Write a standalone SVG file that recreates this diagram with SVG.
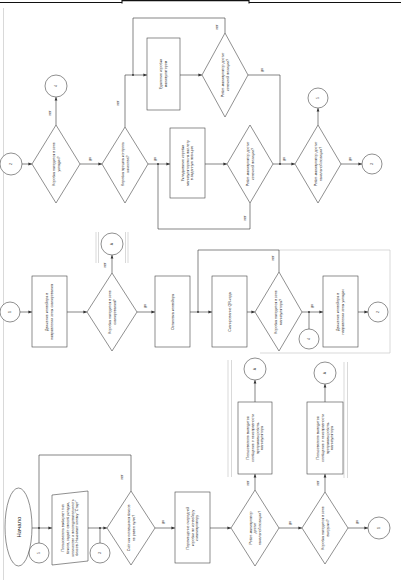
<svg xmlns="http://www.w3.org/2000/svg" width="401" height="582" viewBox="0 0 401 582">
<style>
.n{fill:#fff;stroke:#444;stroke-width:0.6}
.c path,.c line{fill:none;stroke:#333;stroke-width:0.6}
.g{fill:none;stroke:#c8c8c8;stroke-width:0.7}
.t{font-family:"Liberation Sans",Arial,sans-serif;font-size:3.6px;fill:#222;text-anchor:middle}
.l{font-family:"Liberation Sans",Arial,sans-serif;font-size:3.4px;fill:#333;text-anchor:middle}
.s{font-family:"Liberation Sans",Arial,sans-serif;font-size:6px;fill:#222;text-anchor:middle}
.d{fill:#333}
</style>
<defs>
<marker id="a" markerWidth="4" markerHeight="4" refX="3.6" refY="2" orient="auto" markerUnits="userSpaceOnUse"><path d="M0,0.6 L3.6,2 L0,3.4z" fill="#333"/></marker>
</defs>
<rect width="401" height="582" fill="#fff"/>
<!-- page frame -->
<g id="frame">
<path d="M0,2.5 H122 M122,0 V3.5 M122,0.6 H249 M249,0 V3.5 M249,2.5 H401" fill="none" stroke="#111" stroke-width="1.1"/>
<line x1="3.5" y1="8" x2="3.5" y2="580" class="g"/>
<path class="g" d="M96,232 V263 M98.5,232 V263 M125.5,232 V263 M128,232 V263"/>
<path class="g" d="M228,360 V477 M231.5,360 V477 M344,362 V478 M347.5,362 V478"/>
<path class="g" d="M279,250 H390 V353 H260"/>
</g>
<!-- connectors -->
<g class="c" id="connectors">
<!-- column A -->
<line x1="32" y1="528" x2="52" y2="528" marker-end="url(#a)"/>
<path d="M131,491 V455 H39 V528"/>
<line x1="39" y1="543" x2="39" y2="528"/>
<line x1="88" y1="528" x2="107" y2="528" marker-end="url(#a)"/>
<line x1="100" y1="543" x2="100" y2="528"/>
<line x1="155" y1="528" x2="175" y2="528" marker-end="url(#a)"/>
<line x1="210" y1="528" x2="231" y2="528" marker-end="url(#a)"/>
<line x1="255" y1="490" x2="255" y2="474" marker-end="url(#a)"/>
<line x1="255" y1="402" x2="255" y2="380" marker-end="url(#a)"/>
<line x1="279" y1="528" x2="302" y2="528" marker-end="url(#a)"/>
<line x1="325" y1="492" x2="325" y2="474" marker-end="url(#a)"/>
<line x1="325" y1="402" x2="325" y2="384" marker-end="url(#a)"/>
<line x1="348" y1="528" x2="368" y2="528" marker-end="url(#a)"/>
<!-- column B -->
<line x1="20" y1="312" x2="32" y2="312" marker-end="url(#a)"/>
<line x1="67" y1="312" x2="87" y2="312" marker-end="url(#a)"/>
<line x1="112" y1="273" x2="112" y2="255" marker-end="url(#a)"/>
<line x1="137" y1="312" x2="155" y2="312" marker-end="url(#a)"/>
<line x1="190" y1="312" x2="212" y2="312" marker-end="url(#a)"/>
<path d="M279,272 V250 H198 V312"/>
<line x1="247" y1="312" x2="255" y2="312" marker-end="url(#a)"/>
<line x1="302" y1="312" x2="323" y2="312" marker-end="url(#a)"/>
<line x1="309" y1="329" x2="309" y2="312"/>
<line x1="358" y1="312" x2="368" y2="312" marker-end="url(#a)"/>
<!-- column C -->
<line x1="22" y1="164" x2="32" y2="164" marker-end="url(#a)"/>
<line x1="56" y1="125" x2="56" y2="97" marker-end="url(#a)"/>
<line x1="80" y1="164" x2="102" y2="164" marker-end="url(#a)"/>
<path d="M125,127 V75 H147" marker-end="url(#a)"/>
<path d="M225,33 V18 H133 V75"/>
<line x1="180" y1="75" x2="202" y2="75" marker-end="url(#a)"/>
<path d="M248,75 H280 V164"/>
<line x1="148" y1="164" x2="170" y2="164" marker-end="url(#a)"/>
<path d="M250,203 V229 H158 V164"/>
<line x1="205" y1="164" x2="227" y2="164" marker-end="url(#a)"/>
<line x1="273" y1="164" x2="295" y2="164" marker-end="url(#a)"/>
<line x1="318" y1="125" x2="318" y2="108" marker-end="url(#a)"/>
<line x1="341" y1="164" x2="362" y2="164" marker-end="url(#a)"/>
<circle class="d" cx="39" cy="528" r="0.9"/>
<circle class="d" cx="100" cy="528" r="0.9"/>
<circle class="d" cx="198" cy="312" r="0.9"/>
<circle class="d" cx="309" cy="312" r="0.9"/>
<circle class="d" cx="158" cy="164" r="0.9"/>
<circle class="d" cx="280" cy="164" r="0.9"/>
<circle class="d" cx="133" cy="75" r="0.9"/>
<!-- labels -->
<g transform="translate(122,477) rotate(-90)"><text class="l" y="1">нет</text></g>
<g transform="translate(163,522) rotate(-90)"><text class="l" y="1">да</text></g>
<g transform="translate(248,483) rotate(-90)"><text class="l" y="1">нет</text></g>
<g transform="translate(290,523) rotate(-90)"><text class="l" y="1">да</text></g>
<g transform="translate(318,483) rotate(-90)"><text class="l" y="1">нет</text></g>
<g transform="translate(357,522) rotate(-90)"><text class="l" y="1">да</text></g>
<g transform="translate(105,265) rotate(-90)"><text class="l" y="1">нет</text></g>
<g transform="translate(145,306) rotate(-90)"><text class="l" y="1">да</text></g>
<g transform="translate(273,258) rotate(-90)"><text class="l" y="1">нет</text></g>
<g transform="translate(312,306) rotate(-90)"><text class="l" y="1">да</text></g>
<g transform="translate(50,113) rotate(-90)"><text class="l" y="1">нет</text></g>
<g transform="translate(90,159) rotate(-90)"><text class="l" y="1">да</text></g>
<g transform="translate(118,103) rotate(-90)"><text class="l" y="1">нет</text></g>
<g transform="translate(217,27) rotate(-90)"><text class="l" y="1">нет</text></g>
<g transform="translate(262,70) rotate(-90)"><text class="l" y="1">да</text></g>
<g transform="translate(155,159) rotate(-90)"><text class="l" y="1">да</text></g>
<g transform="translate(245,218) rotate(-90)"><text class="l" y="1">нет</text></g>
<g transform="translate(284,159) rotate(-90)"><text class="l" y="1">да</text></g>
<g transform="translate(350,159) rotate(-90)"><text class="l" y="1">да</text></g>
</g>
<!-- column A nodes -->
<g id="start"><ellipse class="n" cx="18.5" cy="527" rx="13.5" ry="39"/><g transform="translate(18.5,527) rotate(-90)"><text class="s" y="2">Начало</text></g></g>
<g id="conA1"><circle class="n" cx="39" cy="553" r="10"/><g transform="translate(39,553) rotate(-90)"><text class="l" y="1.2">5</text></g></g>
<g id="input"><polygon class="n" points="52,495 88,491 88,561 52,565"/><g transform="translate(70,528) rotate(-90)"><text class="t"><tspan x="0" y="-5.64">Пользователь выбирает тип</tspan><tspan x="0" y="-1.04">боксов, задаёт способ укладки,</tspan><tspan x="0" y="3.56">количество и последовательность</tspan><tspan x="0" y="8.16">боксов. Нажимает кнопку "Старт"</tspan></text></g></g>
<g id="conA2"><circle class="n" cx="100" cy="553" r="10"/><g transform="translate(100,553) rotate(-90)"><text class="l" y="1.2">3</text></g></g>
<g id="decA1"><polygon class="n" points="107,528 131,491 155,528 131,565"/><g transform="translate(131,528) rotate(-90)"><text class="t"><tspan x="0" y="-1.04">Счётчик оставшихся боксов</tspan><tspan x="0" y="3.56">не равен нулю?</tspan></text></g></g>
<g id="move"><rect class="n" x="175" y="492" width="35" height="71"/><g transform="translate(192.5,528) rotate(-90)"><text class="t"><tspan x="0" y="-3.34">Перемещение очередной</tspan><tspan x="0" y="1.26">коробки по конвейеру</tspan><tspan x="0" y="5.86">к манипулятору</tspan></text></g></g>
<g id="decA2"><polygon class="n" points="231,528 255,490 279,528 255,566"/><g transform="translate(255,528) rotate(-90)"><text class="t"><tspan x="0" y="-3.34">Робот-манипулятор</tspan><tspan x="0" y="1.26">достиг</tspan><tspan x="0" y="5.86">начальной позиции?</tspan></text></g></g>
<g id="errA1"><rect class="n" x="238" y="402" width="34" height="72"/><g transform="translate(255,438) rotate(-90)"><text class="t"><tspan x="0" y="-5.64">Пользователю выводится</tspan><tspan x="0" y="-1.04">сообщение о неисправности</tspan><tspan x="0" y="3.56">программы робота-</tspan><tspan x="0" y="8.16">манипулятора</tspan></text></g></g>
<g id="conErr1"><circle class="n" cx="255" cy="369" r="11"/><g transform="translate(255,369) rotate(-90)"><text class="l" y="1.2">А</text></g></g>
<g id="decA3"><polygon class="n" points="302,528 325,492 348,528 325,564"/><g transform="translate(325,528) rotate(-90)"><text class="t"><tspan x="0" y="-1.04">Коробка находится в зоне</tspan><tspan x="0" y="3.56">выгрузки?</tspan></text></g></g>
<g id="errA2"><rect class="n" x="307" y="402" width="36" height="72"/><g transform="translate(325,438) rotate(-90)"><text class="t"><tspan x="0" y="-5.64">Пользователю выводится</tspan><tspan x="0" y="-1.04">сообщение о неисправности</tspan><tspan x="0" y="3.56">программы робота-</tspan><tspan x="0" y="8.16">манипулятора</tspan></text></g></g>
<g id="conErr2"><circle class="n" cx="325" cy="373" r="11"/><g transform="translate(325,373) rotate(-90)"><text class="l" y="1.2">А</text></g></g>
<g id="conA3"><circle class="n" cx="379" cy="528" r="11"/><g transform="translate(379,528) rotate(-90)"><text class="l" y="1.2">1</text></g></g>
<!-- column B nodes -->
<g id="conB1"><circle class="n" cx="10" cy="312" r="10"/><g transform="translate(10,312) rotate(-90)"><text class="l" y="1.2">1</text></g></g>
<g id="convey1"><rect class="n" x="32" y="276" width="35" height="71"/><g transform="translate(49.5,312) rotate(-90)"><text class="t"><tspan x="0" y="-1.04">Движение конвейера в</tspan><tspan x="0" y="3.56">направлении зоны сканирования</tspan></text></g></g>
<g id="decB1"><polygon class="n" points="87,312 112,273 137,312 112,351"/><g transform="translate(112,312) rotate(-90)"><text class="t"><tspan x="0" y="-1.04">Коробка находится в зоне</tspan><tspan x="0" y="3.56">сканирования?</tspan></text></g></g>
<g id="conB2"><circle class="n" cx="112" cy="244" r="11"/><g transform="translate(112,244) rotate(-90)"><text class="l" y="1.2">А</text></g></g>
<g id="stop"><rect class="n" x="155" y="276" width="35" height="71"/><g transform="translate(172.5,312) rotate(-90)"><text class="t" y="1.26">Остановка конвейера</text></g></g>
<g id="scan"><rect class="n" x="212" y="276" width="35" height="71"/><g transform="translate(229.5,312) rotate(-90)"><text class="t" y="1.26">Сканирование QR-кода</text></g></g>
<g id="decB2"><polygon class="n" points="255,312 279,272 302,312 279,351"/><g transform="translate(278.5,312) rotate(-90)"><text class="t"><tspan x="0" y="-1.04">Коробка находится в зоне</tspan><tspan x="0" y="3.56">манипулятора?</tspan></text></g></g>
<g id="conB3"><circle class="n" cx="309" cy="339" r="10"/><g transform="translate(309,339) rotate(-90)"><text class="l" y="1.2">4</text></g></g>
<g id="convey2"><rect class="n" x="323" y="276" width="35" height="71"/><g transform="translate(340.5,312) rotate(-90)"><text class="t"><tspan x="0" y="-1.04">Движение конвейера в</tspan><tspan x="0" y="3.56">направлении зоны укладки</tspan></text></g></g>
<g id="conB4"><circle class="n" cx="378" cy="312" r="10"/><g transform="translate(378,312) rotate(-90)"><text class="l" y="1.2">2</text></g></g>
<!-- column C nodes -->
<g id="conC1"><circle class="n" cx="11" cy="164" r="11"/><g transform="translate(11,164) rotate(-90)"><text class="l" y="1.2">2</text></g></g>
<g id="decC1"><polygon class="n" points="32,164 56,125 80,164 56,203"/><g transform="translate(56,164) rotate(-90)"><text class="t"><tspan x="0" y="-1.04">Коробка находится в зоне</tspan><tspan x="0" y="3.56">укладки?</tspan></text></g></g>
<g id="conC2"><circle class="n" cx="56" cy="86" r="11"/><g transform="translate(56,86) rotate(-90)"><text class="l" y="1.2">4</text></g></g>
<g id="decC2"><polygon class="n" points="102,164 125,127 148,164 125,203"/><g transform="translate(125,164) rotate(-90)"><text class="t"><tspan x="0" y="-1.04">Коробка прошла контроль</tspan><tspan x="0" y="3.56">качества?</tspan></text></g></g>
<g id="remove"><rect class="n" x="147" y="38" width="33" height="72"/><g transform="translate(163.5,74) rotate(-90)"><text class="t"><tspan x="0" y="-1.04">Удаление коробки</tspan><tspan x="0" y="3.56">манипулятором</tspan></text></g></g>
<g id="decC3"><polygon class="n" points="202,75 225,33 248,75 225,117"/><g transform="translate(225,75) rotate(-90)"><text class="t"><tspan x="0" y="-1.04">Робот-манипулятор достиг</tspan><tspan x="0" y="3.56">конечной позиции?</tspan></text></g></g>
<g id="stack"><rect class="n" x="170" y="128" width="35" height="70"/><g transform="translate(187.5,163) rotate(-90)"><text class="t"><tspan x="0" y="-3.34">Укладывание коробки</tspan><tspan x="0" y="1.26">манипулятором на паллету</tspan><tspan x="0" y="5.86">в заданную позицию</tspan></text></g></g>
<g id="decC4"><polygon class="n" points="227,164 250,125 273,164 250,203"/><g transform="translate(250,164) rotate(-90)"><text class="t"><tspan x="0" y="-1.04">Робот-манипулятор достиг</tspan><tspan x="0" y="3.56">конечной позиции?</tspan></text></g></g>
<g id="decC5"><polygon class="n" points="295,164 318,125 341,164 318,203"/><g transform="translate(318,164) rotate(-90)"><text class="t"><tspan x="0" y="-1.04">Робот-манипулятор достиг</tspan><tspan x="0" y="3.56">начальной позиции?</tspan></text></g></g>
<g id="conC3"><circle class="n" cx="318" cy="98" r="10"/><g transform="translate(318,98) rotate(-90)"><text class="l" y="1.2">5</text></g></g>
<g id="conC4"><circle class="n" cx="372" cy="164" r="10"/><g transform="translate(372,164) rotate(-90)"><text class="l" y="1.2">3</text></g></g>
</svg>
